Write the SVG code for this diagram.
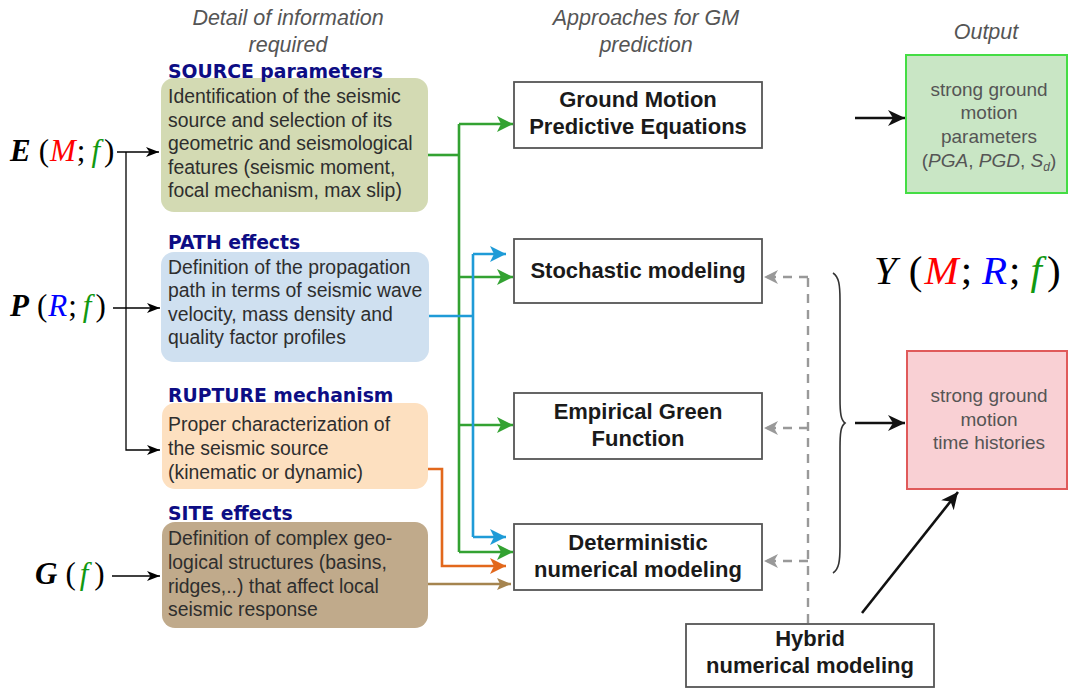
<svg xmlns="http://www.w3.org/2000/svg" width="1068" height="689" viewBox="0 0 1068 689">
<style>
.hdr{font-family:"Liberation Sans",Arial,sans-serif;font-style:italic;font-size:21.5px;fill:#555;text-anchor:middle}
.ttl{font-family:"DejaVu Sans",Verdana,sans-serif;font-weight:bold;font-size:18.8px;fill:#0d0d84}
.bt{font-family:"Liberation Sans",Arial,sans-serif;font-size:19.4px;fill:#2e2e2e}
.mb{fill:#fff;stroke:#555;stroke-width:1.8}
.mt{font-family:"Liberation Sans",Arial,sans-serif;font-weight:bold;font-size:22px;fill:#1a1a1a;text-anchor:middle}
.ot{font-family:"Liberation Sans",Arial,sans-serif;font-size:19px;fill:#555;text-anchor:middle}
.math{font-family:"Liberation Serif","Times New Roman",serif;fill:#000}
.thin{stroke:#000;stroke-width:1.3;fill:none}
.thick{stroke:#111;stroke-width:2.6;fill:none}
.g{stroke:#33a232;stroke-width:2.6;fill:none}
.b{stroke:#1f9bd7;stroke-width:2.6;fill:none}
.o{stroke:#e2681c;stroke-width:2.6;fill:none}
.br{stroke:#a5844f;stroke-width:2.6;fill:none}
.d{stroke:#999;stroke-width:2.4;fill:none;stroke-dasharray:9 7}
</style>
<defs>
<marker id="ak" markerUnits="userSpaceOnUse" markerWidth="14" markerHeight="10" refX="13" refY="5" orient="auto"><path d="M0,0 L13,5 L0,10 L3.5,5 Z" fill="#000"/></marker>
<marker id="akt" markerUnits="userSpaceOnUse" markerWidth="18" markerHeight="16" refX="17" refY="8" orient="auto"><path d="M0,0 L17,8 L0,16 L5,8 Z" fill="#111"/></marker>
<marker id="ag" markerUnits="userSpaceOnUse" markerWidth="17" markerHeight="16" refX="16" refY="8" orient="auto"><path d="M0,0 L16,8 L0,16 L4,8 Z" fill="#33a232"/></marker>
<marker id="ab" markerUnits="userSpaceOnUse" markerWidth="17" markerHeight="16" refX="16" refY="8" orient="auto"><path d="M0,0 L16,8 L0,16 L4,8 Z" fill="#1f9bd7"/></marker>
<marker id="ao" markerUnits="userSpaceOnUse" markerWidth="17" markerHeight="16" refX="16" refY="8" orient="auto"><path d="M0,0 L16,8 L0,16 L4,8 Z" fill="#e2681c"/></marker>
<marker id="abr" markerUnits="userSpaceOnUse" markerWidth="15" markerHeight="12" refX="14" refY="6" orient="auto"><path d="M0,0 L14,6 L0,12 L3,6 Z" fill="#a5844f"/></marker>
<marker id="ad" markerUnits="userSpaceOnUse" markerWidth="15" markerHeight="14" refX="14" refY="7" orient="auto"><path d="M0,0 L14,7 L0,14 L4,7 Z" fill="#999"/></marker>
</defs>

<g id="headers">
<text class="hdr" x="288" y="25">Detail of information</text>
<text class="hdr" x="288" y="52">required</text>
<text class="hdr" x="646" y="25">Approaches for GM</text>
<text class="hdr" x="646" y="52">prediction</text>
<text class="hdr" x="986" y="39">Output</text>
</g>

<g id="input-E">
<text class="math" x="10" y="161" font-size="31"><tspan font-weight="bold" font-style="italic">E</tspan><tspan dx="8">(</tspan><tspan dx="1" font-style="italic" fill="#ff0000">M</tspan><tspan dx="1">;</tspan><tspan dx="6" font-style="italic" fill="#119911">f</tspan><tspan dx="4">)</tspan></text>
</g>
<g id="input-P">
<text class="math" x="10" y="316" font-size="31"><tspan font-weight="bold" font-style="italic">P</tspan><tspan dx="8">(</tspan><tspan dx="1" font-style="italic" fill="#0000ff">R</tspan><tspan dx="1">;</tspan><tspan dx="6" font-style="italic" fill="#119911">f</tspan><tspan dx="4">)</tspan></text>
</g>
<g id="input-G">
<text class="math" x="35" y="584" font-size="31"><tspan font-weight="bold" font-style="italic">G</tspan><tspan dx="8">(</tspan><tspan dx="4" font-style="italic" fill="#119911">f</tspan><tspan dx="6">)</tspan></text>
</g>

<g id="source">
<rect x="161" y="78" width="267" height="134" rx="13" fill="#d3dab3"/>
<text class="ttl" x="168" y="78">SOURCE parameters</text>
<text class="bt" x="168" y="103">Identification of the seismic</text>
<text class="bt" x="168" y="127">source and selection of its</text>
<text class="bt" x="168" y="150">geometric and seismological</text>
<text class="bt" x="168" y="174">features (seismic moment,</text>
<text class="bt" x="168" y="197">focal mechanism, max slip)</text>
</g>
<g id="path">
<rect x="161" y="252" width="268" height="110" rx="13" fill="#cfe0f0"/>
<text class="ttl" x="168" y="249">PATH effects</text>
<text class="bt" x="168" y="274">Definition of the propagation</text>
<text class="bt" x="168" y="297">path in terms of seismic wave</text>
<text class="bt" x="168" y="321">velocity, mass density and</text>
<text class="bt" x="168" y="344">quality factor profiles</text>
</g>
<g id="rupture">
<rect x="162" y="403" width="266" height="86" rx="13" fill="#fde0c0"/>
<text class="ttl" x="168" y="402">RUPTURE mechanism</text>
<text class="bt" x="168" y="431">Proper characterization of</text>
<text class="bt" x="168" y="455">the seismic source</text>
<text class="bt" x="168" y="479">(kinematic or dynamic)</text>
</g>
<g id="site">
<rect x="162" y="522" width="266" height="106" rx="13" fill="#c0aa8b"/>
<text class="ttl" x="168" y="520">SITE effects</text>
<text class="bt" x="168" y="545">Definition of complex geo-</text>
<text class="bt" x="168" y="569">logical structures (basins,</text>
<text class="bt" x="168" y="593">ridges,..) that affect local</text>
<text class="bt" x="168" y="616">seismic response</text>
</g>

<g id="gmpe">
<rect class="mb" x="514" y="82" width="248" height="66"/>
<text class="mt" x="638" y="107">Ground Motion</text>
<text class="mt" x="638" y="134">Predictive Equations</text>
</g>
<g id="stochastic">
<rect class="mb" x="514" y="239" width="248" height="64"/>
<text class="mt" x="638" y="278">Stochastic modeling</text>
</g>
<g id="egf">
<rect class="mb" x="514" y="393" width="248" height="66"/>
<text class="mt" x="638" y="419">Empirical Green</text>
<text class="mt" x="638" y="446">Function</text>
</g>
<g id="deterministic">
<rect class="mb" x="514" y="524" width="248" height="66"/>
<text class="mt" x="638" y="550">Deterministic</text>
<text class="mt" x="638" y="577">numerical modeling</text>
</g>
<g id="hybrid">
<rect class="mb" x="686" y="624" width="248" height="63"/>
<text class="mt" x="810" y="646">Hybrid</text>
<text class="mt" x="810" y="673">numerical modeling</text>
</g>

<g id="out-params">
<rect x="906" y="55" width="161" height="138" fill="#c9e6c5" stroke="#44dd44" stroke-width="2"/>
<text class="ot" x="989" y="96">strong ground</text>
<text class="ot" x="989" y="119">motion</text>
<text class="ot" x="989" y="143">parameters</text>
<text class="ot" x="989" y="167">(<tspan font-style="italic">PGA</tspan>, <tspan font-style="italic">PGD</tspan>, <tspan font-style="italic">S</tspan><tspan font-style="italic" font-size="12" dy="4">d</tspan><tspan dy="-4">)</tspan></text>
</g>
<g id="out-histories">
<rect x="907" y="351" width="160" height="138" fill="#f9d0d4" stroke="#e05a5a" stroke-width="2"/>
<text class="ot" x="989" y="402">strong ground</text>
<text class="ot" x="989" y="426">motion</text>
<text class="ot" x="989" y="449">time histories</text>
</g>

<g id="Y-label">
<text class="math" x="874" y="284" font-size="41"><tspan font-style="italic">Y</tspan><tspan dx="12">(</tspan><tspan dx="2" font-style="italic" fill="#ff0000">M</tspan><tspan dx="2">;</tspan><tspan dx="10" font-style="italic" fill="#0000ff">R</tspan><tspan dx="2">;</tspan><tspan dx="10" font-style="italic" fill="#119911">f</tspan><tspan dx="5">)</tspan></text>
</g>

<g id="connectors">
<path class="thin" d="M117,152 H159" marker-end="url(#ak)"/>
<path class="thin" d="M126,152 V450 H160" marker-end="url(#ak)"/>
<path class="thin" d="M113,308 H160" marker-end="url(#ak)"/>
<path class="thin" d="M112,576 H160" marker-end="url(#ak)"/>

<path class="g" d="M428,155 H459"/>
<path class="g" d="M459,124 V552"/>
<path class="g" d="M459,124 H513" marker-end="url(#ag)"/>
<path class="g" d="M459,277 H513" marker-end="url(#ag)"/>
<path class="g" d="M459,425 H513" marker-end="url(#ag)"/>
<path class="g" d="M459,552 H513" marker-end="url(#ag)"/>

<path class="b" d="M429,316 H473"/>
<path class="b" d="M473,254 V537"/>
<path class="b" d="M473,254 H506" marker-end="url(#ab)"/>
<path class="b" d="M473,537 H506" marker-end="url(#ab)"/>

<path class="o" d="M428,469 H442 V566 H506" marker-end="url(#ao)"/>
<path class="br" d="M428,584 H511" marker-end="url(#abr)"/>

<path class="d" d="M808,623 V277"/>
<path class="d" d="M808,277 H764" marker-end="url(#ad)"/>
<path class="d" d="M808,428 H764" marker-end="url(#ad)"/>
<path class="d" d="M808,561 H764" marker-end="url(#ad)"/>

<path d="M833,273 C839,277 840,285 840,300 L840,398 C840,414 841,420 845,423 C841,426 840,432 840,448 L840,546 C840,561 839,569 833,573" fill="none" stroke="#333" stroke-width="1.6"/>

<path class="thick" d="M855,118 H905" marker-end="url(#akt)"/>
<path class="thick" d="M855,423 H905" marker-end="url(#akt)"/>
<path class="thick" d="M862,613 L958,492" marker-end="url(#akt)"/>
</g>
</svg>
